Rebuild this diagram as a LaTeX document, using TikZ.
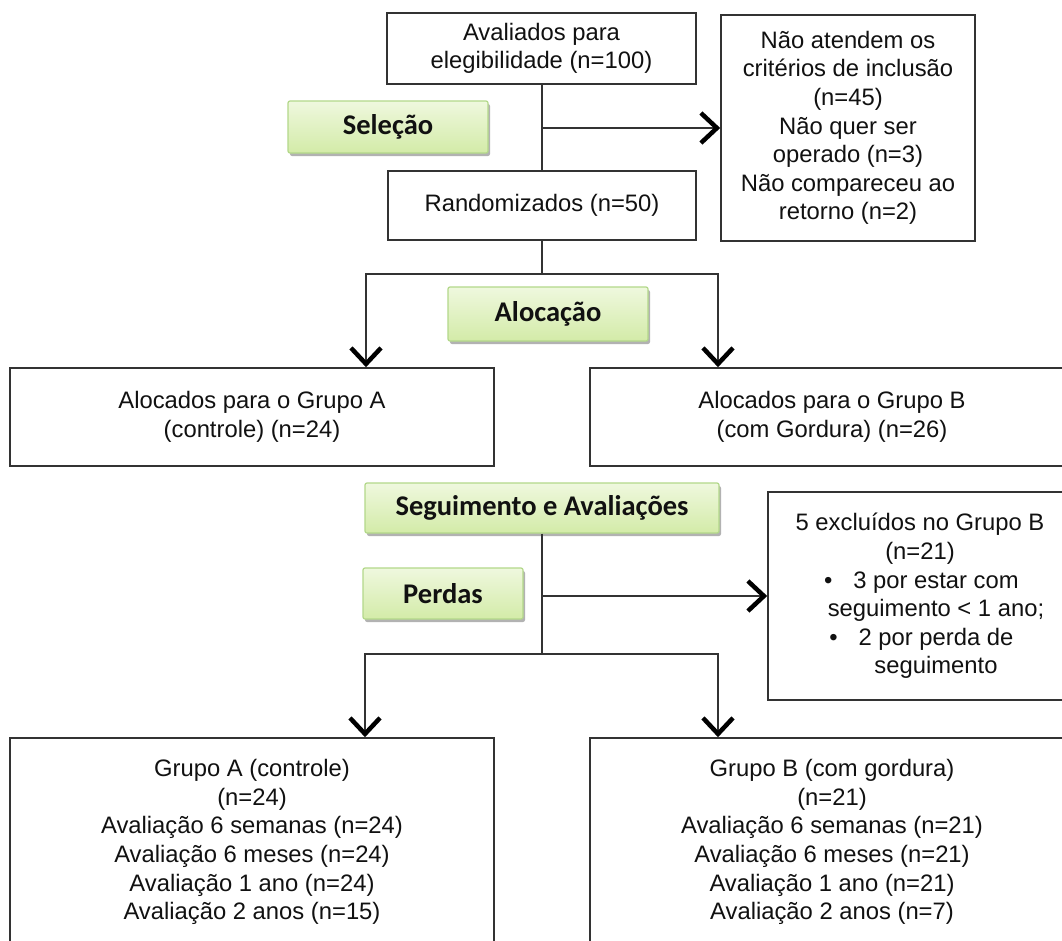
\documentclass[tikz,border=0pt]{standalone}
\usepackage{fontspec}
\setmainfont{Liberation Sans}
\newfontfamily\calib{Carlito}
\usetikzlibrary{arrows.meta,shadows}
\definecolor{lineC}{HTML}{333333}
\definecolor{textC}{HTML}{111111}
\definecolor{greenT}{HTML}{EFF8DE}
\definecolor{greenM}{HTML}{D3EBA8}
\definecolor{greenB}{HTML}{B3D88A}
\begin{document}
\begin{tikzpicture}[x=1pt,y=-1pt,
  box/.style={draw=lineC, line width=1.6pt, fill=white, inner sep=0pt, align=center,
    text=textC, font=\fontsize{23.8}{28.6}\selectfont},
  phase/.style={draw=greenB, line width=1.2pt, rounded corners=2pt, top color=greenT,
    bottom color=greenM, inner sep=0pt, text=textC,
    font=\calib\bfseries\fontsize{28.5}{30}\selectfont,
    drop shadow={shadow xshift=2pt, shadow yshift=-3pt, opacity=0.3, fill=black}},
  conn/.style={draw=lineC, line width=1.8pt},
  arr/.style={conn, -{Straight Barb[length=16pt,width=30pt,line width=4.5pt 0 1,color=black]}},
]
\useasboundingbox (0,0) rectangle (1062,940);
\clip (0,0) rectangle (1062,940);
\fill[white] (0,0) rectangle (1062,940);

% boxes
\node[box, minimum width=309pt, minimum height=71pt] (elig) at (541.5,48.5)
  {Avaliados para\\elegibilidade (n=100)};
\node[box, minimum width=308pt, minimum height=69pt] (rand) at (542,205.5)
  {Randomizados (n=50)};
\node[box, minimum width=254pt, minimum height=226pt] (excl1) at (848,128)
  {Não atendem os\\critérios de inclusão\\(n=45)\\Não quer ser\\operado (n=3)\\Não compareceu ao\\retorno (n=2)};
\node[box, minimum width=484pt, minimum height=98pt] (allocA) at (252,417)
  {Alocados para o Grupo A\\(controle) (n=24)};
\node[box, minimum width=484pt, minimum height=98pt] (allocB) at (832,417)
  {Alocados para o Grupo B\\(com Gordura) (n=26)};
\node[box, minimum width=304pt, minimum height=208pt] (exclB) at (920,596)
  {5 excluídos no Grupo B\\(n=21)\\
   \hspace*{32pt}\llap{\textbullet\hspace{21pt}}3 por estar com\\
   \hspace*{32pt}seguimento < 1 ano;\\
   \hspace*{32pt}\llap{\textbullet\hspace{21pt}}2 por perda de\\
   \hspace*{32pt}seguimento};
\node[box, minimum width=484pt, minimum height=208pt] (botA) at (252,842)
  {Grupo A (controle)\\(n=24)\\Avaliação 6 semanas (n=24)\\Avaliação 6 meses (n=24)\\Avaliação 1 ano (n=24)\\Avaliação 2 anos (n=15)};
\node[box, minimum width=484pt, minimum height=208pt] (botB) at (832,842)
  {Grupo B (com gordura)\\(n=21)\\Avaliação 6 semanas (n=21)\\Avaliação 6 meses (n=21)\\Avaliação 1 ano (n=21)\\Avaliação 2 anos (n=7)};

% phase labels
\node[phase, minimum width=200pt, minimum height=52pt] (sel) at (388,127) {Seleção};
\node[phase, minimum width=200pt, minimum height=54pt] (aloc) at (548,314) {Alocação};
\node[phase, minimum width=354pt, minimum height=50pt] (seg) at (542,508) {Seguimento e Avaliações};
\node[phase, minimum width=160pt, minimum height=51pt] (perd) at (443,593.5) {Perdas};

% connectors
\draw[conn] (elig.south -| rand.north) -- (rand.north);
\draw[arr] (rand.north |- excl1.west) -- (excl1.west);

\coordinate (j1) at (542,274);
\coordinate (aL) at (366,274);
\coordinate (aR) at (718,274);
\draw[conn] (rand.south) -- (j1);
\draw[arr] (j1) -- (aL) -- (aL |- allocA.north);
\draw[arr] (j1) -- (aR) -- (aR |- allocB.north);

\coordinate (j2) at (542,654);
\coordinate (bL) at (365,654);
\coordinate (bR) at (718,654);
\draw[conn] (seg.south) -- (j2);
\draw[arr] (seg.south |- exclB.west) -- (exclB.west);
\draw[arr] (j2) -- (bL) -- (bL |- botA.north);
\draw[arr] (j2) -- (bR) -- (bR |- botB.north);
\end{tikzpicture}
\end{document}
